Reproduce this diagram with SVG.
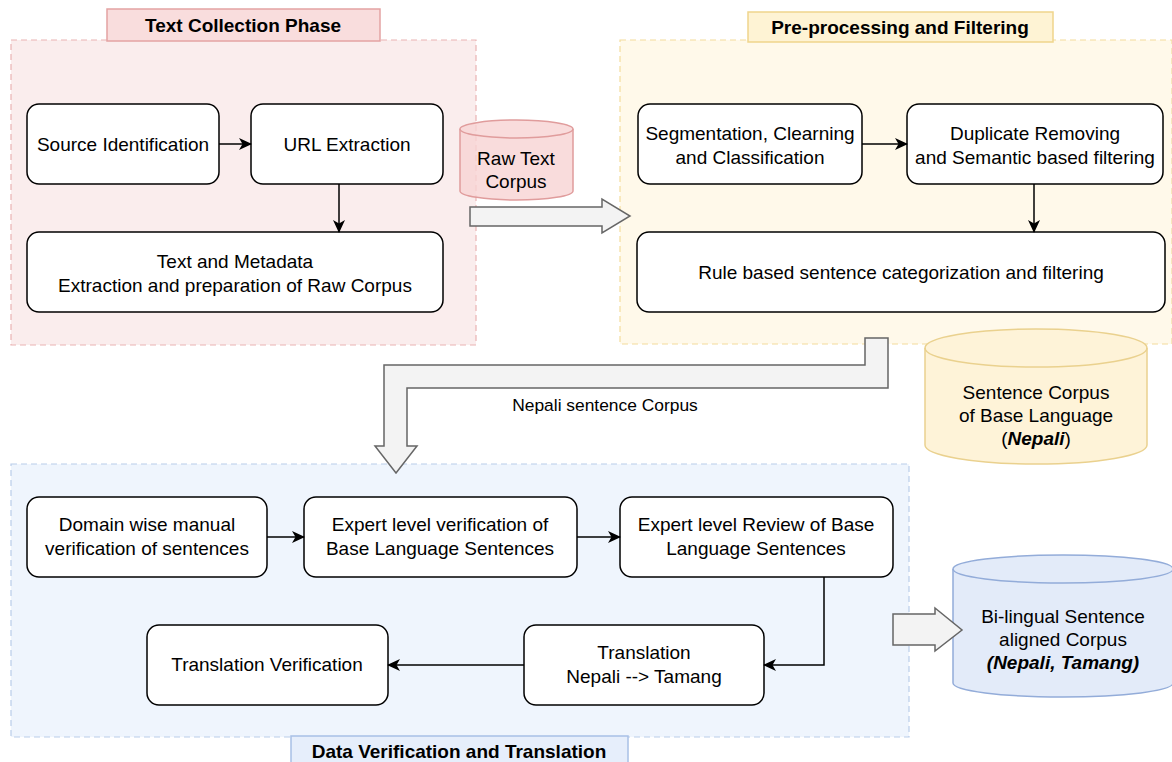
<svg xmlns="http://www.w3.org/2000/svg" width="1172" height="762" viewBox="0 0 1172 762">
<style>
text{font-family:"Liberation Sans",Arial,sans-serif;font-size:19px;fill:#000;text-anchor:middle;dominant-baseline:central}
.b{font-weight:bold}
.node{fill:#fff;stroke:#000;stroke-width:1.5}
.edge{fill:none;stroke:#000;stroke-width:1.5}
.blk{fill:#f3f3f3;stroke:#666;stroke-width:1.5}
</style>
<defs>
<marker id="ah" viewBox="0 0 13 12" refX="12" refY="6" markerWidth="13" markerHeight="12" orient="auto" markerUnits="userSpaceOnUse">
<path d="M0,0 L13,6 L0,12 L3.5,6 Z" fill="#000"/>
</marker>
</defs>
<rect width="1172" height="762" fill="#fff"/>
<g id="phase-collection">
<rect x="11" y="40" width="465" height="305" fill="#faeded" stroke="#eab3b3" stroke-dasharray="6 4" stroke-width="1.2"/>
<rect x="107" y="9" width="273" height="32" fill="#f9dddd" stroke="#e3a3a3" stroke-width="1.5"/>
<text class="b" x="243" y="25">Text Collection Phase</text>
</g>
<g id="phase-preprocessing">
<rect x="620" y="40" width="552" height="304" fill="#fff9ea" stroke="#f3dc9c" stroke-dasharray="6 4" stroke-width="1.2"/>
<rect x="748" y="12" width="305" height="30" fill="#fef3d4" stroke="#efd58c" stroke-width="1.5"/>
<text class="b" x="900" y="27">Pre-processing and Filtering</text>
</g>
<g id="phase-verification">
<rect x="11" y="464" width="898" height="273" fill="#eff5fd" stroke="#b9cdea" stroke-dasharray="6 4" stroke-width="1.2"/>
<rect x="291" y="736" width="337" height="32" fill="#e6eefb" stroke="#a8c0e6" stroke-width="1.5"/>
<text class="b" x="459" y="751">Data Verification and Translation</text>
</g>
<g id="n-source"><rect class="node" x="27" y="104" width="192" height="80" rx="12"/><text x="123" y="144">Source Identification</text></g>
<g id="n-url"><rect class="node" x="251" y="104" width="192" height="80" rx="12"/><text x="347" y="144">URL Extraction</text></g>
<g id="n-textmeta"><rect class="node" x="27" y="232" width="416" height="80" rx="12"/><text x="235" y="261">Text and Metadata</text><text x="235" y="285">Extraction and preparation of Raw Corpus</text></g>
<g id="n-rawcorpus">
<path d="M460,129 A56.5,9 0 0 1 573,129 V191 A56.5,9 0 0 1 460,191 Z" fill="#f8d3d3" fill-opacity="0.8" stroke="#e09c9c" stroke-width="1.5"/>
<path d="M460,129 A56.5,9 0 0 0 573,129" fill="none" stroke="#e09c9c" stroke-width="1.5"/>
<text x="516" y="158">Raw Text</text><text x="516" y="181">Corpus</text>
</g>
<g id="n-seg"><rect class="node" x="638" y="104" width="224" height="80" rx="12"/><text x="750" y="133">Segmentation, Clearning</text><text x="750" y="157">and Classification</text></g>
<g id="n-dup"><rect class="node" x="907" y="104" width="256" height="80" rx="12"/><text x="1035" y="133">Duplicate Removing</text><text x="1035" y="157">and Semantic based filtering</text></g>
<g id="n-rule"><rect class="node" x="637" y="232" width="528" height="80" rx="12"/><text x="901" y="272">Rule based sentence categorization and filtering</text></g>
<g id="n-sentcorpus">
<path d="M925,348 A111,19 0 0 1 1147,348 V445 A111,19 0 0 1 925,445 Z" fill="#fef3d8" stroke="#ead18e" stroke-width="1.5"/>
<path d="M925,348 A111,19 0 0 0 1147,348" fill="none" stroke="#ead18e" stroke-width="1.5"/>
<text x="1036" y="392">Sentence Corpus</text><text x="1036" y="415">of Base Language</text><text x="1036" y="438">(<tspan class="b" font-style="italic">Nepali</tspan>)</text>
</g>
<g id="n-domain"><rect class="node" x="27" y="497" width="240" height="80" rx="12"/><text x="147" y="524">Domain wise manual</text><text x="147" y="548">verification of sentences</text></g>
<g id="n-expertver"><rect class="node" x="304" y="497" width="273" height="80" rx="12"/><text x="440" y="524">Expert level verification of</text><text x="440" y="548">Base Language Sentences</text></g>
<g id="n-review"><rect class="node" x="620" y="497" width="273" height="80" rx="12"/><text x="756" y="524">Expert level Review of Base</text><text x="756" y="548">Language Sentences</text></g>
<g id="n-transver"><rect class="node" x="147" y="625" width="241" height="80" rx="12"/><text x="267" y="664">Translation Verification</text></g>
<g id="n-trans"><rect class="node" x="524" y="625" width="240" height="80" rx="12"/><text x="644" y="652">Translation</text><text x="644" y="676">Nepali --&gt; Tamang</text></g>
<g id="n-bilingual">
<path d="M953,569 A110,14 0 0 1 1173,569 V683 A110,14 0 0 1 953,683 Z" fill="#e3ebf9" stroke="#93acd9" stroke-width="1.5"/>
<path d="M953,569 A110,14 0 0 0 1173,569" fill="none" stroke="#93acd9" stroke-width="1.5"/>
<text x="1063" y="616">Bi-lingual Sentence</text><text x="1063" y="639">aligned Corpus</text><text class="b" font-style="italic" x="1063" y="662">(Nepali, Tamang)</text>
</g>
<g id="connectors">
<line class="edge" x1="219" y1="144" x2="251" y2="144" marker-end="url(#ah)"/>
<line class="edge" x1="339" y1="184" x2="339" y2="232" marker-end="url(#ah)"/>
<line class="edge" x1="862" y1="144" x2="907" y2="144" marker-end="url(#ah)"/>
<line class="edge" x1="1034" y1="184" x2="1034" y2="232" marker-end="url(#ah)"/>
<line class="edge" x1="267" y1="537" x2="304" y2="537" marker-end="url(#ah)"/>
<line class="edge" x1="577" y1="537" x2="620" y2="537" marker-end="url(#ah)"/>
<polyline class="edge" points="824,577 824,665 764,665" marker-end="url(#ah)"/>
<line class="edge" x1="524" y1="665" x2="388" y2="665" marker-end="url(#ah)"/>
<polygon class="blk" points="470,207 602,207 602,199 630,216 602,233 602,226 470,226"/>
<polygon class="blk" points="865,338 888,338 888,388 407,388 407,446 417,446 396,473 375,446 384,446 384,365 865,365"/>
<polygon class="blk" points="893,614 935,614 935,608 962,630 935,651 935,645 893,645"/>
<text x="605" y="405" style="font-size:17.4px">Nepali sentence Corpus</text>
</g>
</svg>
